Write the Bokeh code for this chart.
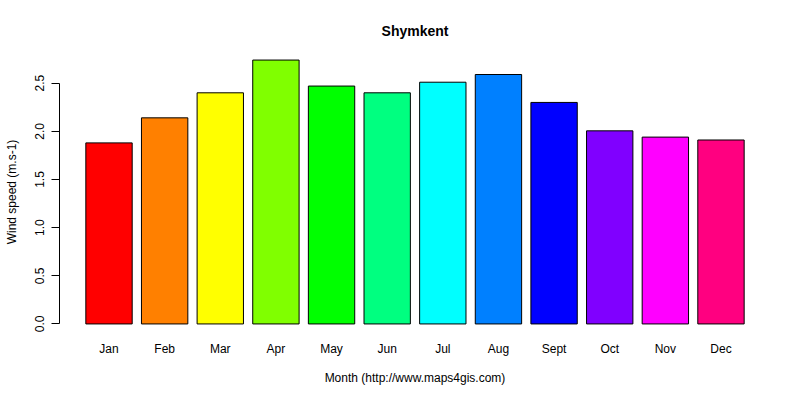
from bokeh.plotting import figure
from bokeh.models import FactorRange, Range1d, FixedTicker, CustomJSTickFormatter
from bokeh.embed import file_html
from bokeh.resources import INLINE

months = ["Jan", "Feb", "Mar", "Apr", "May", "Jun", "Jul", "Aug", "Sept", "Oct", "Nov", "Dec"]
wind_speed = [1.88, 2.14, 2.40, 2.74, 2.47, 2.40, 2.51, 2.59, 2.30, 2.005, 1.94, 1.91]
colors = ["#FF0000", "#FF8000", "#FFFF00", "#80FF00", "#00FF00", "#00FF80",
          "#00FFFF", "#0080FF", "#0000FF", "#8000FF", "#FF00FF", "#FF0080"]
y_ticks = [0.0, 0.5, 1.0, 1.5, 2.0, 2.5]
title_text = "Shymkent"
x_title = "Month (http://www.maps4gis.com)"
y_title = "Wind speed (m.s-1)"

FONT = "Liberation Sans"
ymax = max(wind_speed)

p = figure(
    width=800, height=400,
    x_range=FactorRange(factors=months, range_padding=0.065, range_padding_units="percent"),
    y_range=Range1d(-0.04 * ymax, 1.04 * ymax),
    output_backend="svg", toolbar_location=None,
    min_border_left=59, min_border_right=30, min_border_top=49, min_border_bottom=66,
    title=title_text,
)
p.vbar(x=months, top=wind_speed, bottom=0, width=1 / 1.2,
       fill_color=colors, line_color="black", line_width=1)

p.outline_line_color = None
p.grid.visible = False
p.background_fill_color = "white"
p.border_fill_color = "white"

p.title.align = "center"
p.title.text_font = FONT
p.title.text_font_size = "14px"
p.title.text_font_style = "bold"
p.title.text_color = "black"
p.title.standoff = 21

xa = p.xaxis[0]
xa.axis_line_color = None
xa.major_tick_line_color = None
xa.major_tick_out = 0
xa.major_tick_in = 0
xa.minor_tick_line_color = None
xa.major_label_text_font = FONT
xa.major_label_text_font_size = "12px"
xa.major_label_text_color = "black"
xa.major_label_standoff = 7
xa.axis_label = x_title
xa.axis_label_text_font = FONT
xa.axis_label_text_font_size = "12px"
xa.axis_label_text_font_style = "normal"
xa.axis_label_text_color = "black"
xa.axis_label_standoff = 12

ya = p.yaxis[0]
ya.ticker = FixedTicker(ticks=y_ticks)
ya.bounds = (y_ticks[0], y_ticks[-1])
ya.axis_line_color = "black"
ya.major_tick_line_color = "black"
ya.major_tick_out = 8
ya.major_tick_in = 0
ya.minor_tick_line_color = None
ya.major_label_orientation = "vertical"
ya.major_label_text_font = FONT
ya.major_label_text_font_size = "12px"
ya.major_label_text_color = "black"
ya.major_label_standoff = 7
ya.formatter = CustomJSTickFormatter(code="return tick.toFixed(1);")
ya.axis_label = y_title
ya.axis_label_text_font = FONT
ya.axis_label_text_font_size = "12px"
ya.axis_label_text_font_style = "normal"
ya.axis_label_text_color = "black"
ya.axis_label_standoff = 14

open("out.html", "w").write(file_html(p, INLINE))
